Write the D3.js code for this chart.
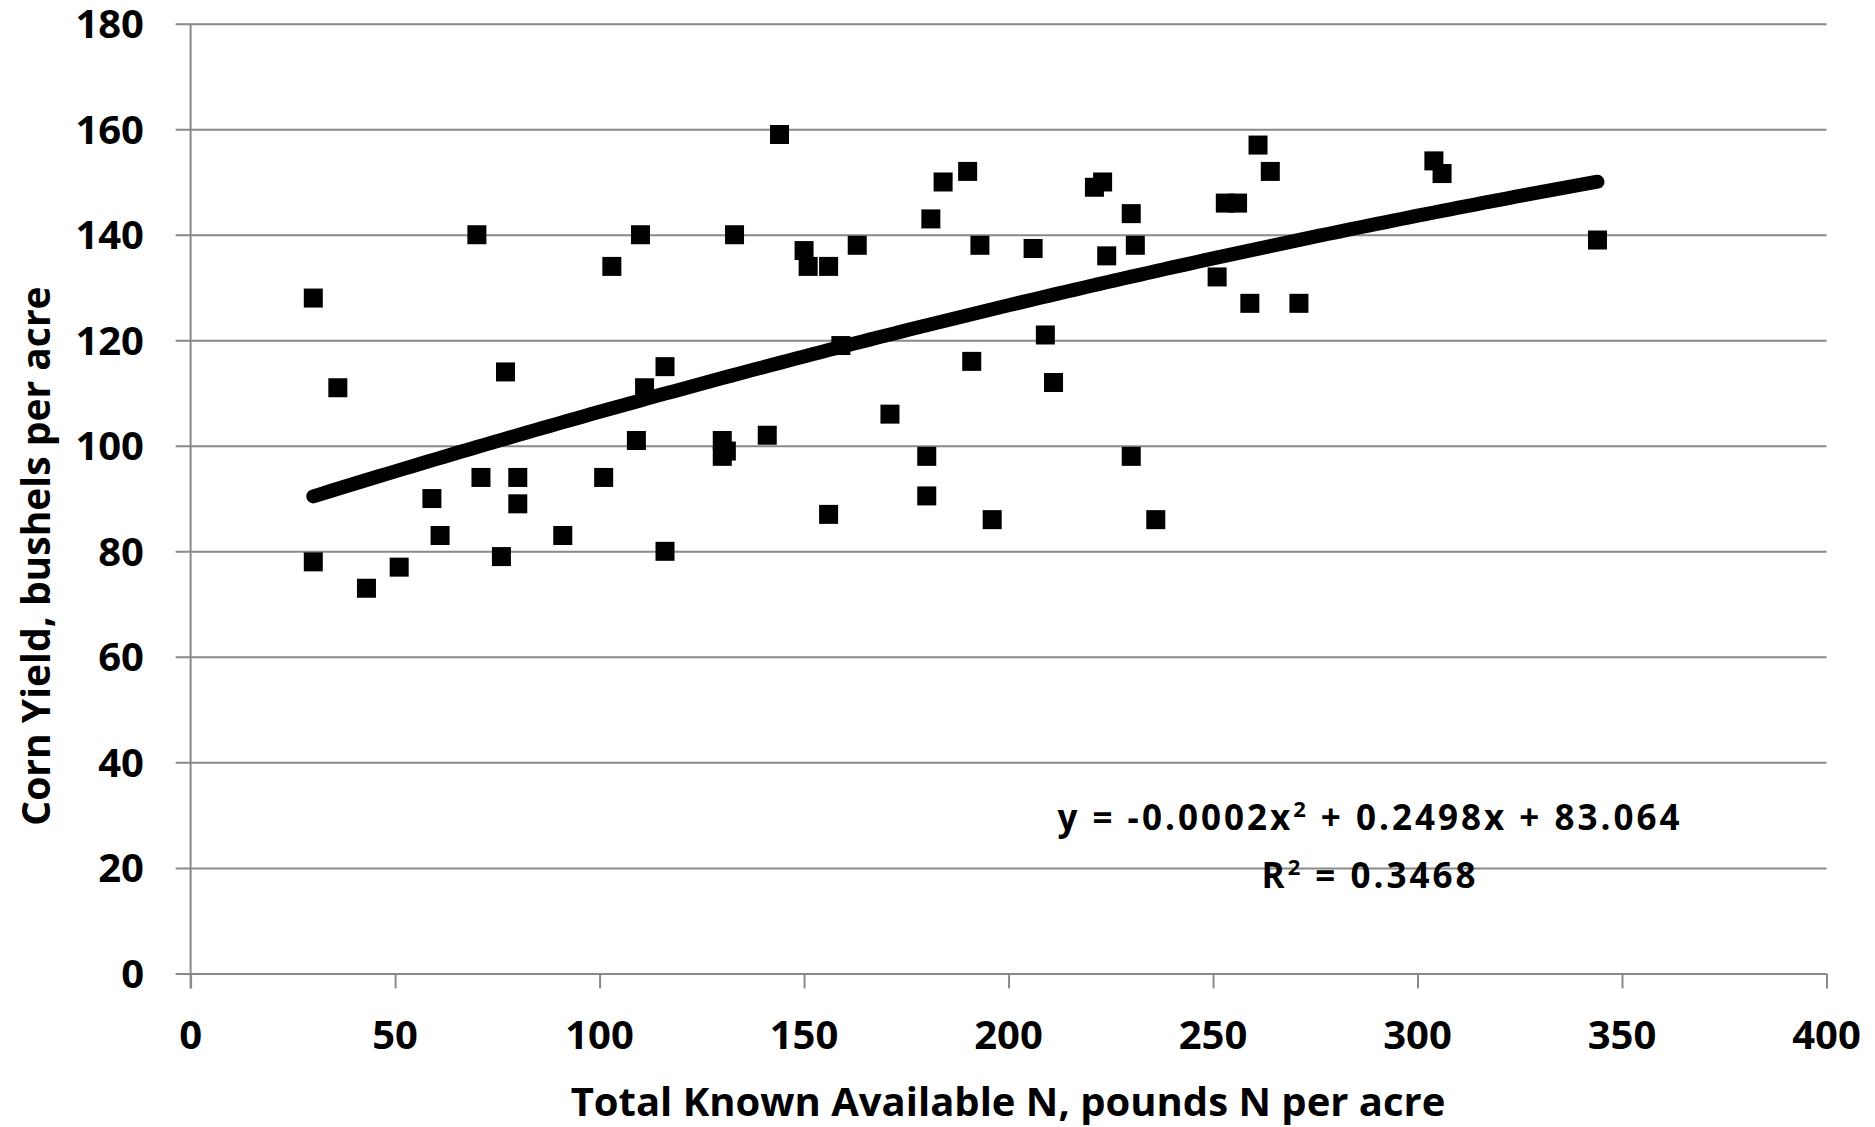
<!DOCTYPE html>
<html lang="en">
<head>
    <meta charset="UTF-8">
    <title>Corn Yield vs Total Known Available N</title>
    <script src="https://d3js.org/d3.v7.min.js"></script>
    <style>
        body { margin: 0; background: white; }
        svg text {
            font-family: "Open Sans", "Liberation Sans", sans-serif;
            font-weight: bold;
            fill: black;
        }
    </style>
</head>
<body>
    <div id="chart"></div>
    <script>
        // Total known available N (lb N/acre) and corn yield (bu/acre)
        var availableN = [30, 30, 36, 43, 51, 59, 61, 70, 71, 76, 77, 80, 80, 91, 101, 103,
            109, 110, 111, 116, 116, 130, 130, 131, 133, 141, 144, 150, 151, 156, 156, 159,
            163, 171, 180, 180, 181, 184, 190, 191, 193, 196, 206, 209, 211, 221, 223, 224,
            230, 231, 230, 236, 251, 253, 256, 259, 261, 264, 271, 304, 306, 344];
        var cornYield = [128, 78, 111, 73, 77, 90, 83, 140, 94, 79, 114, 94, 89, 83, 94, 134,
            101, 140, 111, 115, 80, 101, 98, 99, 140, 102, 159, 137, 134, 134, 87, 119,
            138, 106, 98, 90.5, 143, 150, 152, 116, 138, 86, 137.4, 121, 112, 149, 150, 136,
            144, 138, 98, 86, 132, 146, 146, 127, 157, 152, 127, 154, 151.6, 139];

        var xTicks = [0, 50, 100, 150, 200, 250, 300, 350, 400];
        var yTicks = [0, 20, 40, 60, 80, 100, 120, 140, 160, 180];

        // polynomial trendline; the label shows Excel's rounded coefficients
        var trendCoef = [-0.00016, 0.2498, 83.064];
        var trendLabel = ["y = -0.0002x", "2", " + 0.2498x + 83.064"];
        var r2Label = ["R", "2", " = 0.3468"];

        var width = 1875, height = 1127;
        var svg = d3.select("#chart").append("svg")
            .attr("width", width)
            .attr("height", height);

        var x = d3.scaleLinear().domain([0, 400]).range([190.6, 1826.5]);
        var y = d3.scaleLinear().domain([0, 180]).range([973.4, 23.7]);

        var gridColor = "#898989";

        // horizontal gridlines (with small outward ticks on the left)
        svg.append("g")
            .attr("transform", "translate(" + x(0) + ",0)")
            .call(d3.axisLeft(y).tickValues(yTicks).tickSize(-(x(400) - x(0))).tickFormat(""))
            .call(g => g.select(".domain").remove())
            .call(g => g.selectAll("line").attr("stroke", gridColor).attr("stroke-width", 2).attr("x1", -15));

        // y axis line
        svg.append("line")
            .attr("x1", x(0)).attr("x2", x(0))
            .attr("y1", y(180)).attr("y2", y(0) + 15)
            .attr("stroke", gridColor).attr("stroke-width", 2);

        // x axis ticks
        svg.append("g")
            .attr("transform", "translate(0," + y(0) + ")")
            .call(d3.axisBottom(x).tickValues(xTicks).tickSize(15).tickFormat(""))
            .call(g => g.select(".domain").remove())
            .call(g => g.selectAll("line").attr("stroke", gridColor).attr("stroke-width", 2));

        // tick labels
        svg.append("g").selectAll("text")
            .data(yTicks).join("text")
            .attr("x", 144)
            .attr("y", d => y(d))
            .attr("dy", "0.36em")
            .attr("text-anchor", "end")
            .style("font-size", "40px")
            .text(d => d);

        svg.append("g").selectAll("text")
            .data(xTicks).join("text")
            .attr("x", d => x(d))
            .attr("y", 1049)
            .attr("text-anchor", "middle")
            .style("font-size", "40px")
            .text(d => d);

        // axis titles
        svg.append("text")
            .attr("x", 1008)
            .attr("y", 1116)
            .attr("text-anchor", "middle")
            .style("font-size", "40px")
            .text("Total Known Available N, pounds N per acre");

        svg.append("text")
            .attr("transform", "translate(50,556) rotate(-90)")
            .attr("text-anchor", "middle")
            .style("font-size", "39px")
            .text("Corn Yield, bushels per acre");

        // trendline over the data range
        var trend = d => trendCoef[0] * d * d + trendCoef[1] * d + trendCoef[2];
        var xs = d3.range(d3.min(availableN), d3.max(availableN) + 0.1, 2);
        svg.append("path")
            .datum(xs)
            .attr("fill", "none")
            .attr("stroke", "black")
            .attr("stroke-width", 14)
            .attr("stroke-linecap", "round")
            .attr("d", d3.line().x(d => x(d)).y(d => y(trend(d))));

        // data markers
        var size = 19;
        svg.append("g").selectAll("rect")
            .data(d3.range(availableN.length)).join("rect")
            .attr("x", i => x(availableN[i]) - size / 2)
            .attr("y", i => y(cornYield[i]) - size / 2)
            .attr("width", size)
            .attr("height", size)
            .attr("fill", "black");

        // equation and R squared
        function labelWithSup(parts, ty) {
            var t = svg.append("text")
                .attr("x", 1370)
                .attr("y", ty)
                .attr("text-anchor", "middle")
                .style("font-size", "35px")
                .style("letter-spacing", "3px");
            t.append("tspan").text(parts[0]);
            t.append("tspan").attr("dy", -13).style("font-size", "22px").text(parts[1]);
            t.append("tspan").attr("dy", 13).text(parts[2]);
        }
        labelWithSup(trendLabel, 830);
        labelWithSup(r2Label, 888);
    </script>
</body>
</html>
